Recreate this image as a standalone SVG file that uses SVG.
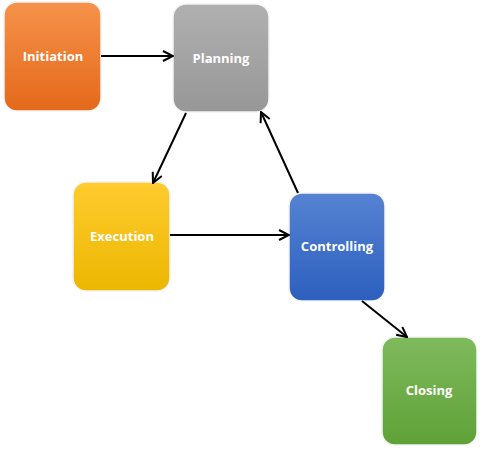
<svg xmlns="http://www.w3.org/2000/svg" width="480" height="456" viewBox="0 0 480 456">
<style>
.box{stroke:#f4f4f4;stroke-width:1.5}
.lbl{font-family:"Open Sans","Liberation Sans",sans-serif;font-weight:bold;font-size:13px;fill:#fff;text-anchor:middle;dominant-baseline:central}
.conn line{stroke:#000;stroke-width:2}
</style>
<defs>
<linearGradient id="gO" x1="0" y1="0" x2="0" y2="1"><stop offset="0" stop-color="#F6924A"/><stop offset="1" stop-color="#E4691B"/></linearGradient>
<linearGradient id="gG" x1="0" y1="0" x2="0" y2="1"><stop offset="0" stop-color="#B0B0B0"/><stop offset="1" stop-color="#979797"/></linearGradient>
<linearGradient id="gY" x1="0" y1="0" x2="0" y2="1"><stop offset="0" stop-color="#FFCB2E"/><stop offset="1" stop-color="#ECB700"/></linearGradient>
<linearGradient id="gB" x1="0" y1="0" x2="0" y2="1"><stop offset="0" stop-color="#5683D2"/><stop offset="1" stop-color="#2C5FBE"/></linearGradient>
<linearGradient id="gN" x1="0" y1="0" x2="0" y2="1"><stop offset="0" stop-color="#7FBA5D"/><stop offset="1" stop-color="#5FA137"/></linearGradient>
<marker id="arr" viewBox="0 0 12 12" refX="11" refY="6" markerWidth="12" markerHeight="12" markerUnits="userSpaceOnUse" orient="auto">
<path d="M1,1 L11,6 L1,11" fill="none" stroke="#000" stroke-width="2"/>
</marker>
</defs>
<g id="initiation"><rect class="box" x="4" y="2" width="97" height="109" rx="13" fill="url(#gO)"/><text class="lbl" x="53" y="56">Initiation</text></g>
<g id="planning"><rect class="box" x="173" y="4" width="96" height="108" rx="13" fill="url(#gG)"/><text class="lbl" x="221" y="58">Planning</text></g>
<g id="execution"><rect class="box" x="73" y="182" width="97" height="109" rx="13" fill="url(#gY)"/><text class="lbl" x="122" y="236">Execution</text></g>
<g id="controlling"><rect class="box" x="289" y="193" width="96" height="108" rx="13" fill="url(#gB)"/><text class="lbl" x="337" y="246">Controlling</text></g>
<g id="closing"><rect class="box" x="382" y="337" width="95" height="108" rx="13" fill="url(#gN)"/><text class="lbl" x="429" y="390">Closing</text></g>
<g class="conn">
<line x1="101" y1="56" x2="173" y2="56" marker-end="url(#arr)"/>
<line x1="186" y1="113" x2="153" y2="183" marker-end="url(#arr)"/>
<line x1="298" y1="193" x2="261" y2="112" marker-end="url(#arr)"/>
<line x1="170" y1="235" x2="289" y2="235" marker-end="url(#arr)"/>
<line x1="362" y1="301" x2="407" y2="337" marker-end="url(#arr)"/>
</g>
</svg>
